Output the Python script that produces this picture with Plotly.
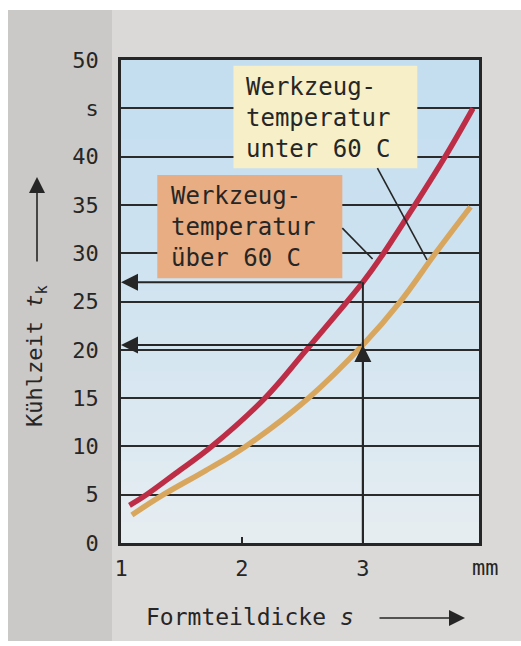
import plotly.graph_objects as go

# Kühlzeit t_k in s over Formteildicke s in mm
s_upper = [1.07, 1.21, 1.45, 1.75, 2.19, 2.52, 2.85, 3.0, 3.15, 3.43, 3.68, 3.91]
t_upper = [3.9, 5.0, 7.2, 10.0, 15.0, 19.8, 24.7, 27.0, 29.6, 35.0, 40.0, 45.0]
s_lower = [1.09, 1.35, 1.70, 2.03, 2.55, 3.0, 3.31, 3.60, 3.89]
t_lower = [2.9, 5.0, 7.5, 10.0, 15.0, 20.5, 25.0, 30.0, 34.8]

# worked example: read-off at s = 3 mm
s_read = 3.0
t_read_upper = 27.0
t_read_lower = 20.5

y_tickvals = [0, 5, 10, 15, 20, 25, 30, 35, 40, 45, 50]
y_ticktext = ["0", "5", "10", "15", "20", "25", "30", "35", "40", "s", "50"]
x_tickvals = [1, 2, 3]
x_ticktext = ["1", "2", "3"]
x_unit = "mm"

label_lower = "Werkzeug-<br>temperatur<br>unter 60 C"
label_upper = "Werkzeug-<br>temperatur<br>über 60 C"

FONT = "DejaVu Sans Mono"
INK = "#262626"
W, H = 521, 646
L, R, T, B = 121, 479, 60, 543   # plot area in pixels


def px(x):
    return (x - L) / (R - L)


def py(y):
    return (B - y) / (B - T)


fig = go.Figure()

fig.add_trace(go.Scatter(x=s_upper, y=t_upper, mode="lines",
                         line=dict(color="#bd2d46", width=5.5, shape="spline", smoothing=1.1),
                         hoverinfo="skip", showlegend=False))
fig.add_trace(go.Scatter(x=s_lower, y=t_lower, mode="lines",
                         line=dict(color="#d9a65e", width=5.5, shape="spline", smoothing=1.1),
                         hoverinfo="skip", showlegend=False))
# vertical read-off line at s = 3 mm
fig.add_trace(go.Scatter(x=[s_read, s_read], y=[0, t_read_upper], mode="lines",
                         line=dict(color=INK, width=2), hoverinfo="skip", showlegend=False))

shapes = []

# paper background: white scan border and darker left band
shapes.append(dict(type="rect", xref="paper", yref="paper", layer="below",
                   x0=px(8), x1=px(112), y0=py(641), y1=py(10),
                   fillcolor="#cbc9c7", line_width=0))
shapes.append(dict(type="rect", xref="paper", yref="paper", layer="below",
                   x0=px(0), x1=px(W), y0=py(10), y1=py(0),
                   fillcolor="#ffffff", line_width=0))
shapes.append(dict(type="rect", xref="paper", yref="paper", layer="below",
                   x0=px(0), x1=px(8), y0=py(646), y1=py(0),
                   fillcolor="#ffffff", line_width=0))
shapes.append(dict(type="rect", xref="paper", yref="paper", layer="below",
                   x0=px(0), x1=px(W), y0=py(646), y1=py(641),
                   fillcolor="#ffffff", line_width=0))

# light blue fill of the diagram, fading downward
top_c = (196, 222, 240)
bot_c = (230, 237, 241)
n = 48
for i in range(n):
    f = i / (n - 1)
    g = f ** 1.4
    c = tuple(round(a + (b - a) * g) for a, b in zip(top_c, bot_c))
    shapes.append(dict(type="rect", xref="x domain", yref="y domain", layer="below",
                       x0=0, x1=1, y0=1 - (i + 1) / n, y1=1 - i / n + 0.002,
                       fillcolor="rgb(%d,%d,%d)" % c, line_width=0))

# label boxes
shapes.append(dict(type="rect", xref="x", yref="y", layer="above",
                   x0=1.93, x1=3.45, y0=38.8, y1=49.4,
                   fillcolor="#f6efc8", line_width=0))
shapes.append(dict(type="rect", xref="x", yref="y", layer="above",
                   x0=1.30, x1=2.83, y0=27.4, y1=38.1,
                   fillcolor="#e8ad82", line_width=0))
# callout lines
shapes.append(dict(type="line", xref="x", yref="y", layer="above",
                   x0=3.12, y0=38.8, x1=3.53, y1=29.3,
                   line=dict(color=INK, width=1.6)))
shapes.append(dict(type="line", xref="x", yref="y", layer="above",
                   x0=2.83, y0=32.6, x1=3.08, y1=29.4,
                   line=dict(color=INK, width=1.6)))

annotations = [
    dict(x=2.02, y=44.0, xref="x", yref="y", text=label_lower, showarrow=False,
         xanchor="left", yanchor="middle", align="left",
         font=dict(family=FONT, size=24, color=INK)),
    dict(x=1.40, y=32.7, xref="x", yref="y", text=label_upper, showarrow=False,
         xanchor="left", yanchor="middle", align="left",
         font=dict(family=FONT, size=24, color=INK)),
    # horizontal read-off arrows to the time axis
    dict(x=1.0, y=t_read_upper, ax=s_read, ay=t_read_upper, xref="x", yref="y",
         axref="x", ayref="y", text="", showarrow=True, arrowhead=2, arrowsize=1.7,
         arrowwidth=2, arrowcolor=INK),
    dict(x=1.0, y=t_read_lower, ax=s_read, ay=t_read_lower, xref="x", yref="y",
         axref="x", ayref="y", text="", showarrow=True, arrowhead=2, arrowsize=1.7,
         arrowwidth=2, arrowcolor=INK),
    # upward arrow on the thickness line
    dict(x=s_read, y=t_read_lower, ax=s_read, ay=0, xref="x", yref="y",
         axref="x", ayref="y", text="", showarrow=True, arrowhead=2, arrowsize=1.7,
         arrowwidth=2, arrowcolor=INK),
    # axis titles with direction arrows
    dict(x=px(36), y=py(356), xref="paper", yref="paper",
         xanchor="center", yanchor="middle",
         text="Kühlzeit <i>t</i><sub>k</sub>", textangle=-90, showarrow=False,
         font=dict(family=FONT, size=22, color=INK)),
    dict(x=px(37), y=py(177), xref="paper", yref="paper", text="", showarrow=True,
         ax=0, ay=86, arrowhead=2, arrowsize=2.0, arrowwidth=1.6, arrowcolor=INK),
    dict(x=px(250), y=py(617), xref="paper", yref="paper",
         xanchor="center", yanchor="middle",
         text="Formteildicke <i>s</i>", showarrow=False,
         font=dict(family=FONT, size=23, color=INK)),
    dict(x=px(465), y=py(618), xref="paper", yref="paper", text="", showarrow=True,
         ax=-87, ay=0, arrowhead=2, arrowsize=2.0, arrowwidth=1.6, arrowcolor=INK),
    dict(x=px(485), y=py(567), xref="paper", yref="paper", text=x_unit,
         xanchor="center", yanchor="middle",
         showarrow=False, font=dict(family=FONT, size=22, color=INK)),
]

fig.update_layout(
    width=W, height=H,
    margin=dict(l=L, r=W - R, t=T, b=H - B, pad=0),
    paper_bgcolor="#dbd9d7",
    plot_bgcolor="rgb(230,237,241)",
    shapes=shapes,
    annotations=annotations,
    showlegend=False,
)
fig.update_xaxes(range=[1, 3.96], tickvals=x_tickvals, ticktext=x_ticktext,
                 showgrid=False, zeroline=False, showline=True, mirror=True,
                 linecolor=INK, linewidth=2.5, ticks="inside", ticklen=6,
                 tickwidth=1.5, tickcolor=INK, ticklabelstandoff=4,
                 tickfont=dict(family=FONT, size=22, color=INK), fixedrange=True)
fig.update_yaxes(range=[0, 50], tickvals=y_tickvals, ticktext=y_ticktext,
                 showgrid=True, gridcolor="#2b2b2b", gridwidth=2, zeroline=False,
                 showline=True, mirror=True, linecolor=INK, linewidth=2.5,
                 ticks="", ticklabelstandoff=15,
                 tickfont=dict(family=FONT, size=22, color=INK), fixedrange=True)

fig.write_html("out.html")
